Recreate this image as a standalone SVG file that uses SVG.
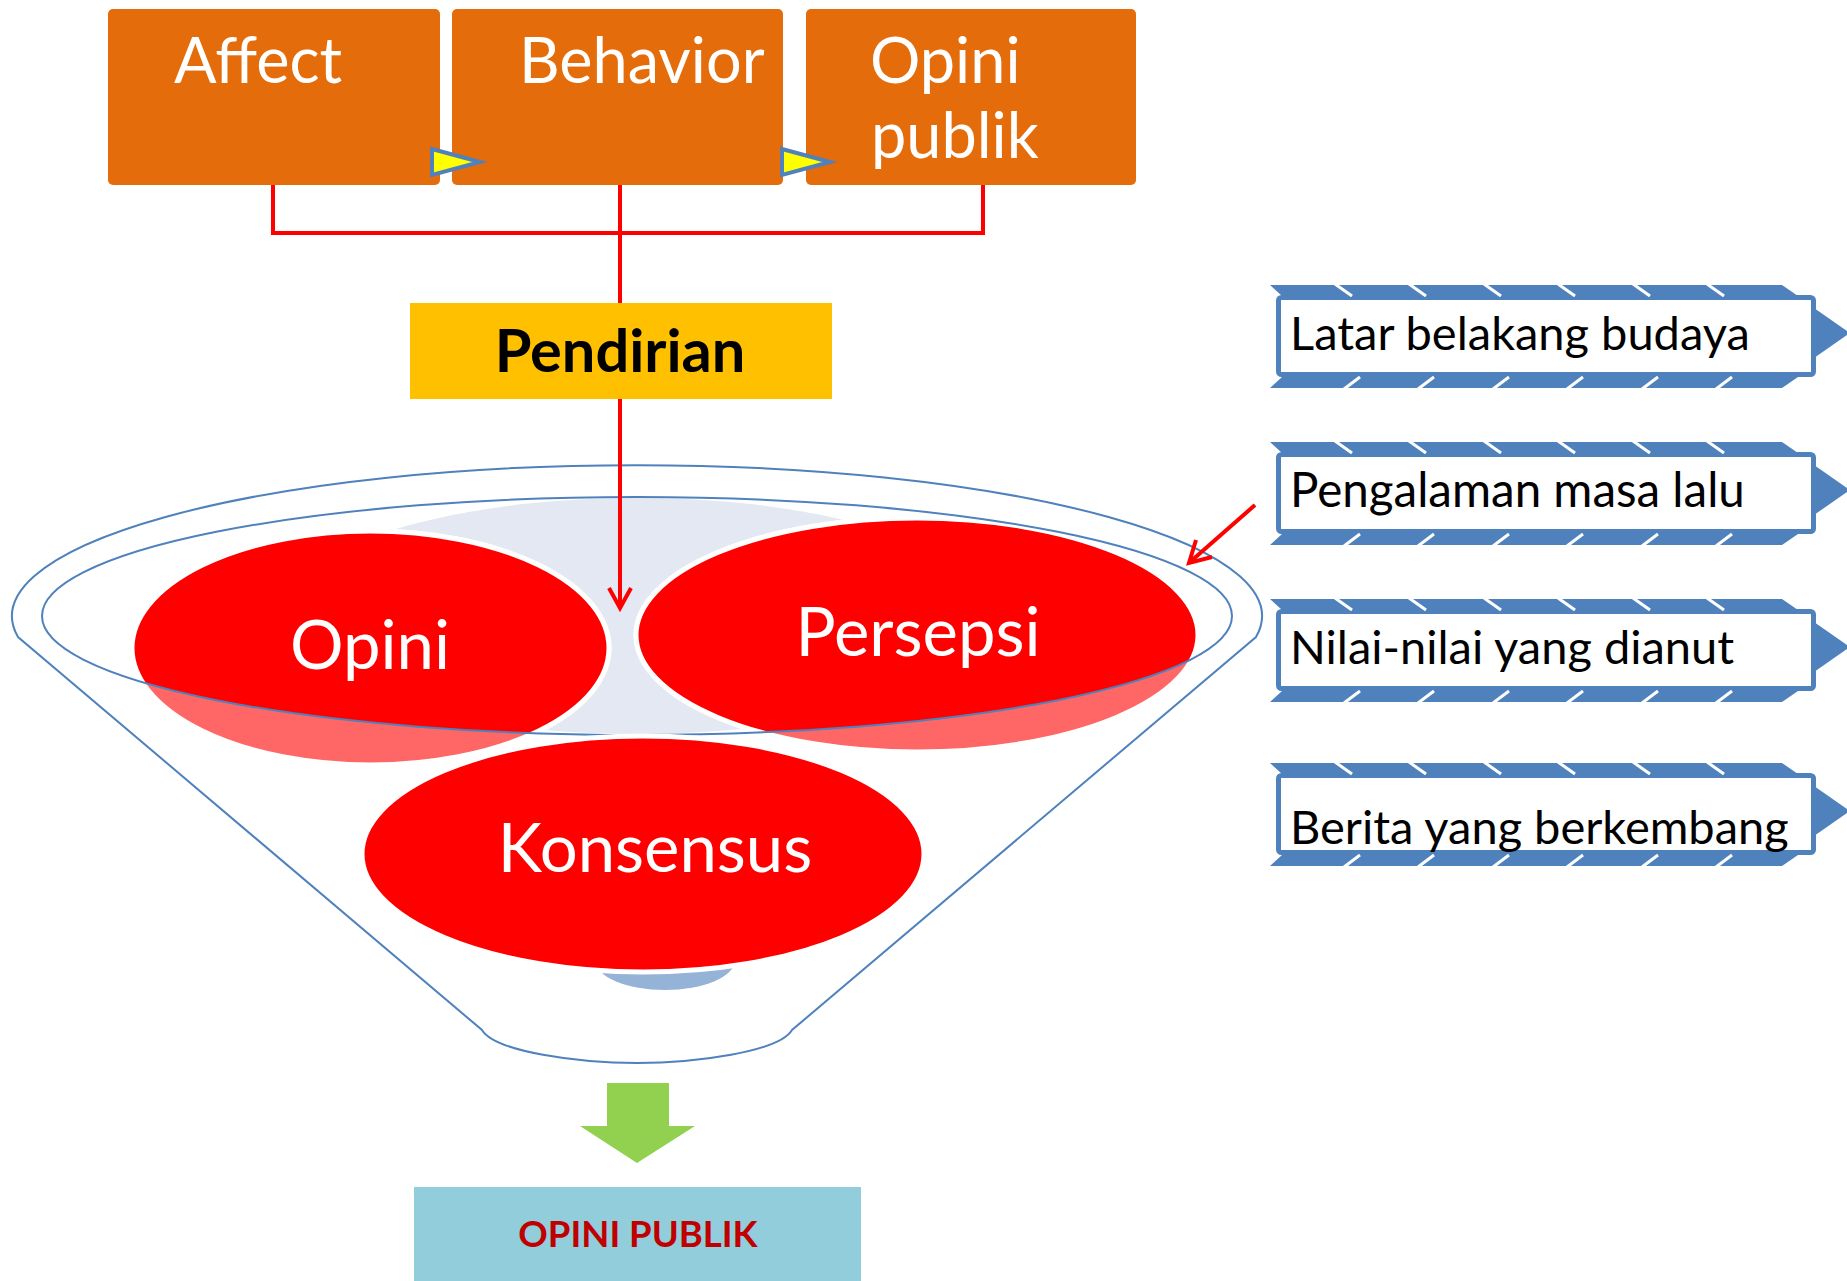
<svg xmlns="http://www.w3.org/2000/svg" width="1847" height="1281" viewBox="0 0 1847 1281">
<style>
.ob{fill:#E46C0A}
.wt{fill:#FFFFFF;font-family:Lato,"Open Sans",sans-serif}
.bk{fill:#000000;font-family:Lato,"Open Sans",sans-serif}
.tri{fill:#FFFF00;stroke:#4F81BD;stroke-width:4;stroke-linejoin:miter}
.red{stroke:#FF0000;stroke-width:4;fill:none}
.blue{fill:#4F81BD}
.bline{fill:none;stroke:#4F81BD;stroke-width:2}
.slash{stroke:#FFFFFF;stroke-width:3}
.ell{stroke:#FFFFFF;stroke-width:5}
.box{fill:#FFFFFF;stroke:#4F81BD;stroke-width:5}
</style>
<defs>
<clipPath id="inner"><ellipse cx="637" cy="616" rx="595" ry="119"/></clipPath>
<g id="band">
<polygon class="blue" points="1270,0 1782,0 1798,11 1282,11"/>
<polygon class="blue" points="1282,92 1798,92 1782,103 1270,103"/>
<polygon class="blue" points="1814,23 1850,48 1814,73"/>
<rect class="box" x="1278.5" y="12.5" width="535" height="77" rx="3"/>
<g class="slash">
<line x1="1335" y1="-1" x2="1352" y2="11"/><line x1="1409" y1="-1" x2="1426" y2="11"/><line x1="1484" y1="-1" x2="1501" y2="11"/><line x1="1558" y1="-1" x2="1575" y2="11"/><line x1="1633" y1="-1" x2="1650" y2="11"/><line x1="1707" y1="-1" x2="1724" y2="11"/>
<line x1="1360" y1="92" x2="1344" y2="104"/><line x1="1434" y1="92" x2="1418" y2="104"/><line x1="1509" y1="92" x2="1493" y2="104"/><line x1="1583" y1="92" x2="1567" y2="104"/><line x1="1658" y1="92" x2="1642" y2="104"/><line x1="1732" y1="92" x2="1716" y2="104"/>
</g>
</g>
</defs>
<rect width="1847" height="1281" fill="#FFFFFF"/>

<g id="affect">
<rect class="ob" x="108" y="9" width="332" height="176" rx="5"/>
<text class="wt" x="174" y="83" font-size="63">Affect</text>
</g>
<g id="behavior">
<rect class="ob" x="452" y="9" width="331" height="176" rx="5"/>
<text class="wt" x="519" y="83" font-size="63">Behavior</text>
</g>
<g id="opini-publik-top">
<rect class="ob" x="806" y="9" width="330" height="176" rx="5"/>
<text class="wt" x="870" y="83" font-size="63">Opini</text>
<text class="wt" x="871" y="158" font-size="63">publik</text>
</g>
<polygon class="tri" points="432,149 480,162 432,175"/>
<polygon class="tri" points="782,149 830,162 782,175"/>

<g id="pendirian">
<rect x="410" y="303" width="422" height="96" fill="#FFC000"/>
<text class="bk" x="620" y="372" font-size="59.5" font-weight="bold" text-anchor="middle">Pendirian</text>
</g>

<g id="funnel">
<path d="M18,637 A625,151 0 1 1 1256,637 L792,1030 C779,1052 694,1063 637,1063 C580,1063 495,1052 482,1030 Z" fill="#FFFFFF" stroke="#4F81BD" stroke-width="2"/>
<ellipse cx="637" cy="616" rx="357" ry="118" fill="#E3E8F2"/>
</g>

<g id="opini">
<ellipse class="ell" cx="370.5" cy="648" rx="238.5" ry="117" fill="#FF6666"/>
<ellipse class="ell" cx="370.5" cy="648" rx="238.5" ry="117" fill="#FF0000" clip-path="url(#inner)"/>
</g>
<g id="persepsi">
<ellipse class="ell" cx="917" cy="635" rx="281" ry="117" fill="#FF6666"/>
<ellipse class="ell" cx="917" cy="635" rx="281" ry="117" fill="#FF0000" clip-path="url(#inner)"/>
</g>
<ellipse class="bline" cx="637" cy="616" rx="595" ry="119"/>
<ellipse cx="665" cy="960" rx="70" ry="30" fill="#95B3D7"/>
<g id="konsensus">
<ellipse class="ell" cx="643" cy="854" rx="281" ry="118" fill="#FF0000"/>
<text class="wt" x="655" y="872" font-size="67" text-anchor="middle">Konsensus</text>
</g>
<text class="wt" x="370" y="669" font-size="67" text-anchor="middle">Opini</text>
<text class="wt" x="918" y="656" font-size="67" text-anchor="middle">Persepsi</text>

<g id="connectors">
<polyline class="red" points="273,185 273,233 983,233 983,185"/>
<line class="red" x1="620" y1="185" x2="620" y2="303"/>
<line class="red" x1="620" y1="399" x2="620" y2="608"/>
<polyline class="red" points="609,588 620,608 631,588"/>
<line class="red" x1="1255" y1="505" x2="1190" y2="562" stroke-width="5"/>
<polyline class="red" points="1196,540 1189,563 1212,557" stroke-width="5"/>
<polygon points="607,1083 669,1083 669,1126 695,1126 637,1163 580,1126 607,1126" fill="#92D050"/>
</g>

<g id="latar" transform="translate(0,285)"><use href="#band"/>
<text class="bk" x="1290" y="65" font-size="47">Latar belakang budaya</text></g>
<g id="pengalaman" transform="translate(0,442)"><use href="#band"/>
<text class="bk" x="1290" y="65" font-size="47.5">Pengalaman masa lalu</text></g>
<g id="nilai" transform="translate(0,599)"><use href="#band"/>
<text class="bk" x="1290" y="65" font-size="47">Nilai-nilai yang dianut</text></g>
<g id="berita" transform="translate(0,763)"><use href="#band"/>
<text class="bk" x="1290" y="81" font-size="47">Berita yang berkembang</text></g>

<g id="opini-publik">
<rect x="414" y="1187" width="447" height="100" fill="#92CDDC"/>
<text x="638" y="1247" font-size="36.5" font-weight="bold" text-anchor="middle" fill="#C00000" font-family="Lato,'Open Sans',sans-serif">OPINI PUBLIK</text>
</g>
</svg>
